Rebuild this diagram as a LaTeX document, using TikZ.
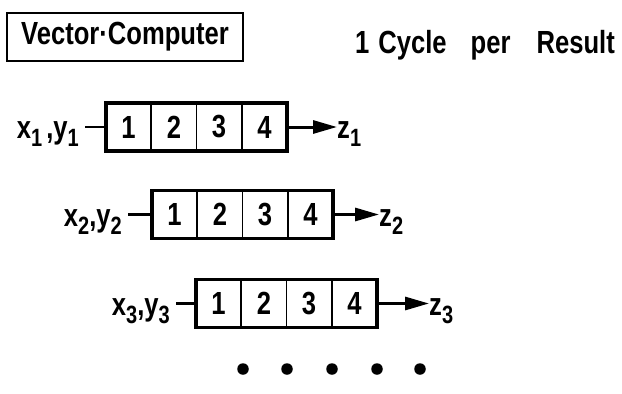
\documentclass[tikz,border=0pt]{standalone}
\usepackage{fontspec}
\setmainfont{Liberation Sans}[FakeStretch=0.8]
\usetikzlibrary{arrows.meta}
\newcommand\lowix[1]{\raisebox{-8pt}{\fontsize{25}{25}\selectfont #1}}
\begin{document}
\begin{tikzpicture}[x=1pt,y=-1pt,
  big/.style={font=\fontsize{32}{34}\selectfont\bfseries, inner sep=0pt},
  titlebox/.style={big, draw, line width=2pt, minimum width=236pt, minimum height=48pt},
  cellbox/.style={big, draw, line width=1.8pt, minimum width=45.25pt, minimum height=48pt},
  pipebox/.style={draw, line width=3.4pt, minimum width=181pt, minimum height=48pt, inner sep=0pt},
  inline/.style={line width=2.6pt},
  outarrow/.style={line width=3pt, -{Triangle[length=24pt,width=13pt]}},
  bigdot/.style={circle, fill, inner sep=0pt, minimum size=11.5pt}]
\useasboundingbox (0,0) rectangle (622,394);

\node[titlebox] (title) at (125,37) {Vector·Computer};
\node[big, anchor=base west] (rate) at (355,53) {1\hspace{9pt}Cycle\hspace{24pt}per\hspace{26pt}Result};

% row 1
\node[cellbox] (c11) at (128.6,127) {1};
\node[cellbox] (c12) at (173.9,127) {2};
\node[cellbox] (c13) at (219.1,127) {3};
\node[cellbox] (c14) at (264.4,127) {4};
\node[pipebox] (p1) at (196.5,127) {};
\node[big, anchor=base east] (l1) at (79,138) {x\lowix{1}\hspace{4pt},y\lowix{1}};
\node[big, anchor=base west] (z1) at (337,138) {z\lowix{1}};
\draw[inline] (l1.east |- p1.west) ++(6,0) -- (p1.west);
\draw[outarrow] (p1.east) -- (z1.west |- p1.east);

% row 2
\node[cellbox] (c21) at (174.6,214.5) {1};
\node[cellbox] (c22) at (219.9,214.5) {2};
\node[cellbox] (c23) at (265.1,214.5) {3};
\node[cellbox] (c24) at (310.4,214.5) {4};
\node[pipebox] (p2) at (242.5,214.5) {};
\node[big, anchor=base east] (l2) at (122,226) {x\lowix{2},y\lowix{2}};
\node[big, anchor=base west] (z2) at (379,226) {z\lowix{2}};
\draw[inline] (l2.east |- p2.west) ++(6,0) -- (p2.west);
\draw[outarrow] (p2.east) -- (z2.west |- p2.east);

% row 3
\node[cellbox] (c31) at (218.6,303.5) {1};
\node[cellbox] (c32) at (263.9,303.5) {2};
\node[cellbox] (c33) at (309.1,303.5) {3};
\node[cellbox] (c34) at (354.4,303.5) {4};
\node[pipebox] (p3) at (286.5,303.5) {};
\node[big, anchor=base east] (l3) at (170,315) {x\lowix{3},y\lowix{3}};
\node[big, anchor=base west] (z3) at (429,315) {z\lowix{3}};
\draw[inline] (l3.east |- p3.west) ++(6,0) -- (p3.west);
\draw[outarrow] (p3.east) -- (z3.west |- p3.east);

% continuation dots
\node[bigdot] (d1) at (243,369) {};
\node[bigdot] (d2) at (287,369) {};
\node[bigdot] (d3) at (332,369) {};
\node[bigdot] (d4) at (377,369) {};
\node[bigdot] (d5) at (420,369) {};
\end{tikzpicture}
\end{document}
